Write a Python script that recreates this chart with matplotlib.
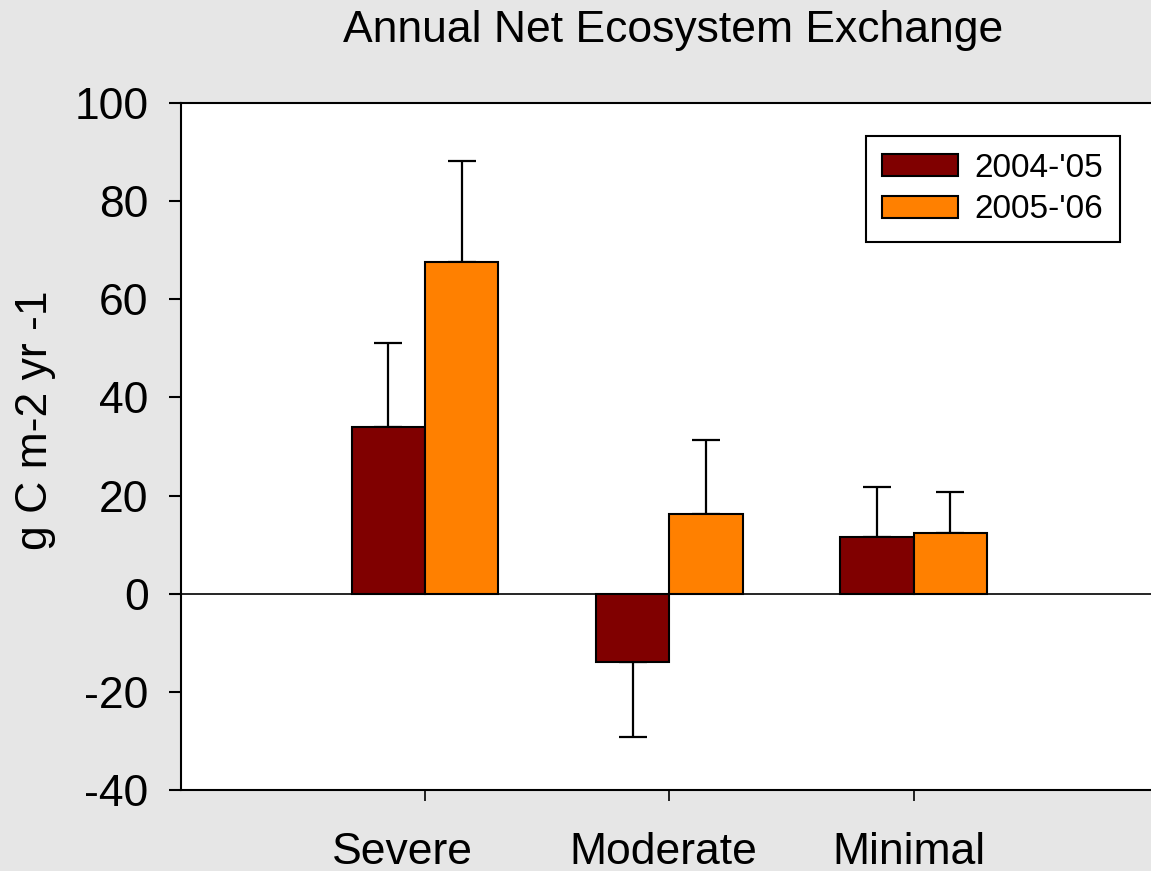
import matplotlib
matplotlib.use("Agg")
import matplotlib.pyplot as plt
import matplotlib.transforms as mtransforms
import numpy as np

plt.rcParams['font.family'] = ['Liberation Sans', 'DejaVu Sans']

categories = ["Severe", "Moderate", "Minimal"]
series_names = ["2004-'05", "2005-'06"]
nee_0405 = [34.0, -13.9, 11.6]
nee_0506 = [67.7, 16.3, 12.4]
err_0405 = [17.1, 15.4, 10.2]
err_0506 = [20.5, 15.1, 8.4]
yticks = [-40, -20, 0, 20, 40, 60, 80, 100]

colors = ["#800000", "#FF8000"]

fig = plt.figure(figsize=(11.51, 8.71), dpi=100)
fig.patch.set_facecolor("#e6e6e6")
ax = fig.add_axes([180.5/1151, 1-790/871, (1158-180.5)/1151, (790-103)/871])
ax.set_facecolor("white")

x = np.arange(1, len(categories)+1)
w = 0.3
for i, (vals, errs) in enumerate([(nee_0405, err_0405), (nee_0506, err_0506)]):
    pos = x + (i - 0.5) * w
    vals = np.array(vals)
    errs = np.array(errs)
    lower = np.where(vals < 0, errs, 0)
    upper = np.where(vals >= 0, errs, 0)
    ax.bar(pos, vals, width=w, color=colors[i], edgecolor="black", linewidth=1.5,
           label=series_names[i], zorder=3)
    ax.errorbar(pos, vals, yerr=[lower, upper], fmt="none", ecolor="black",
                elinewidth=1.6, capsize=10, capthick=1.6, zorder=2)

ax.axhline(0, color="black", linewidth=1.2, zorder=4)
ax.set_xlim(0, 4)
ax.set_ylim(-40, 100)
ax.set_yticks(yticks)
ax.set_yticklabels([str(t) for t in yticks])
ax.set_xticks(x)
ax.set_xticklabels(categories)

for s in ["left", "top", "bottom"]:
    ax.spines[s].set_linewidth(1.5)
ax.spines["right"].set_visible(False)
ax.tick_params(axis="y", direction="out", length=9, width=1.5, labelsize=32, pad=14)
ax.tick_params(axis="x", direction="out", length=8, width=1.2, labelsize=32, pad=22)

# small horizontal shifts of category labels (in pixels) as in the original
label_shift_px = [-22, -6, -5]
for lbl, dx in zip(ax.get_xticklabels(), label_shift_px):
    lbl.set_transform(lbl.get_transform() +
                      mtransforms.ScaledTranslation(dx/100, 0, fig.dpi_scale_trans))

fig.text(36/1151, 1-420/871, "g C m-2 yr -1", fontsize=32, rotation=90,
         ha="center", va="center")
fig.text(673.5/1151, 1-42/871, "Annual Net Ecosystem Exchange", fontsize=32,
         ha="center", va="baseline")

leg = ax.legend(loc="upper right", bbox_to_anchor=(1120/1151, 1-136/871),
                bbox_transform=fig.transFigure, fontsize=24, frameon=True,
                fancybox=False, edgecolor="black", framealpha=1,
                handlelength=2.27, handleheight=0.64, handletextpad=0.5,
                borderpad=0.5, labelspacing=0.32, borderaxespad=0)
leg.get_frame().set_linewidth(1.5)

fig.savefig("out.png", dpi=100, facecolor=fig.get_facecolor())
